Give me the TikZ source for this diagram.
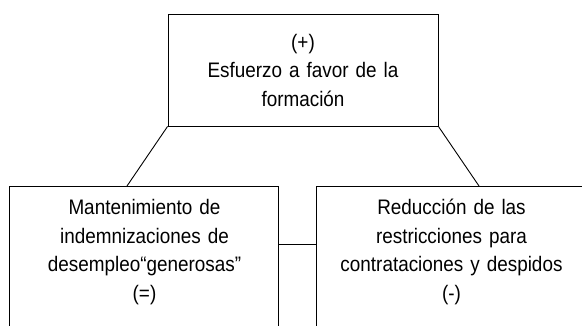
\documentclass[tikz,border=0pt]{standalone}
\usepackage{fontspec}
\setmainfont{Liberation Sans}[FakeStretch=0.9]
\begin{document}
\begin{tikzpicture}[x=1pt, y=-1pt,
    linea/.style={line width=0.9pt},
    caja/.style={linea, align=center, inner xsep=0pt,
      font=\fontsize{21}{28.5}\selectfont}]
    \useasboundingbox (0,0) rectangle (582,325);
    \clip (0,0) rectangle (582,325);
    \node[caja, draw, text width=270pt, minimum height=112pt] (esf) at (303,70) {(+)\\Esfuerzo a favor de la\\formación};
    \node[caja, text width=269pt, anchor=north, inner ysep=13pt] (mant) at (144.5,186) {Mantenimiento de\\indemnizaciones de\\desempleo“generosas”\\(=)};
    \node[caja, text width=269pt, anchor=north, inner ysep=13pt] (red) at (451.5,186) {Reducción de las\\restricciones para\\contrataciones y despidos\\(-)};
    % los recuadros de abajo siguen fuera de la imagen
    \draw[linea] (mant.north west) rectangle ++(269,160);
    \draw[linea] (red.north west) rectangle ++(269,160);
    \coordinate (mtop) at (127,186);
    \coordinate (rtop) at (479,186);
    \coordinate (medio) at (0,244);
    \draw[linea] (esf.south west) -- (mtop);
    \draw[linea] (esf.south east) -- (rtop);
    \draw[linea] (mant.east |- medio) -- (red.west |- medio);
  \end{tikzpicture}
\end{document}
